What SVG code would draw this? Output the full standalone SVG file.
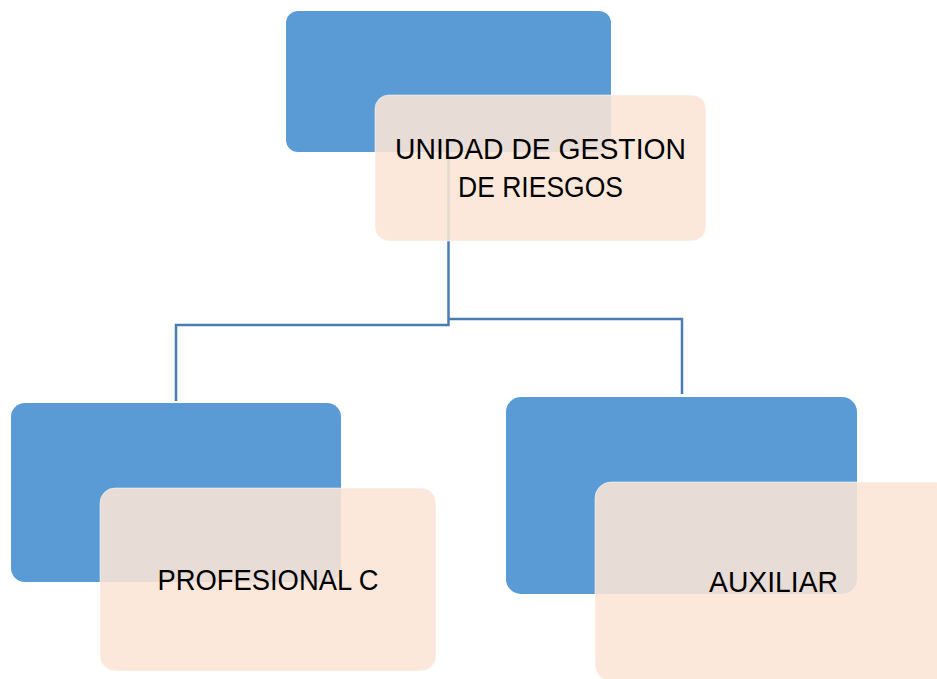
<svg xmlns="http://www.w3.org/2000/svg" width="937" height="679" viewBox="0 0 937 679">
<style>
.blue{fill:#5B9BD5;}
.peach{fill:#FBE5D6;fill-opacity:0.88;stroke:#ffffff;stroke-opacity:0.5;stroke-width:1;}
.lbl{font-family:"Liberation Sans","Open Sans",Arial,sans-serif;font-size:30px;fill:#000;text-anchor:middle;}
.conn{fill:none;stroke:#4A7EB3;stroke-width:2.5;}
</style>
<rect width="937" height="679" fill="#fff"/>
<g id="top-node">
<rect class="blue" x="286" y="11" width="325" height="141" rx="12"/>
</g>
<g id="left-node">
<rect class="blue" x="11" y="403" width="330" height="179" rx="14"/>
</g>
<g id="right-node">
<rect class="blue" x="506" y="397" width="351" height="197" rx="15"/>
</g>
<g id="connectors">
<polyline class="conn" points="448.5,152 448.5,325 176,325 176,401"/>
<polyline class="conn" points="448.5,319 682,319 682,394"/>
</g>
<g id="top-label">
<rect class="peach" x="375" y="95" width="331" height="146" rx="14"/>
<text class="lbl" x="540.5" y="159" textLength="291" lengthAdjust="spacingAndGlyphs">UNIDAD DE GESTION</text>
<text class="lbl" x="540.5" y="197" textLength="165" lengthAdjust="spacingAndGlyphs">DE RIESGOS</text>
</g>
<g id="left-label">
<rect class="peach" x="100" y="488" width="336" height="183" rx="15"/>
<text class="lbl" x="268" y="590" textLength="221" lengthAdjust="spacingAndGlyphs">PROFESIONAL C</text>
</g>
<g id="right-label">
<rect class="peach" x="595" y="482" width="356" height="199" rx="16"/>
<text class="lbl" x="773.5" y="592" textLength="129" lengthAdjust="spacingAndGlyphs">AUXILIAR</text>
</g>
</svg>
